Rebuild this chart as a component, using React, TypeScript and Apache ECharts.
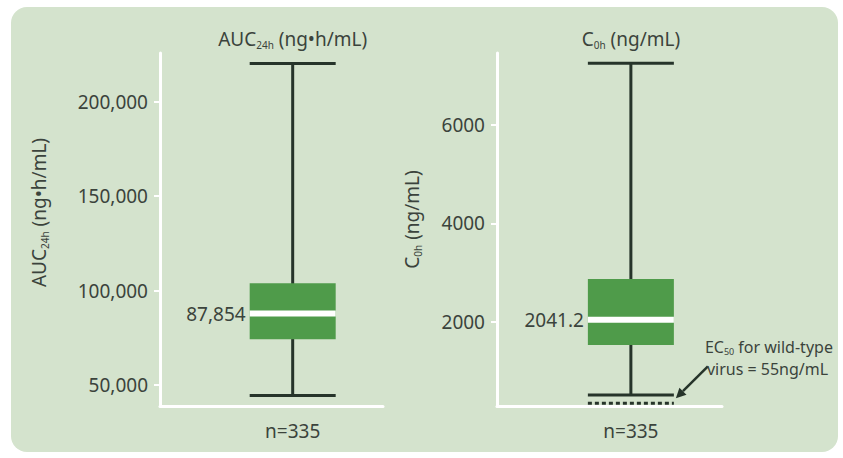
import React, { useEffect, useRef } from "react";
import * as echarts from "echarts";

// ---- data ----
const titleMain = ["AUC", "C"];
const titleSub = ["24h", "0h"];
const titleUnit = ["(ng•h/mL)", "(ng/mL)"];
const sampleSizes = [335, 335];
const whiskerLow = [44500, 508];
const q1 = [74200, 1526];
const medians = [87854, 2041.2];
const q3 = [103900, 2868];
const whiskerHigh = [220300, 7255];
const aucTicks = [50000, 100000, 150000, 200000];
const c0hTicks = [2000, 4000, 6000];
const yMin = [38900, 286];
const yMax = [225800, 7465];
const ec50Value = 55; // ng/mL, as labelled
const ec50DrawnAt = 341; // level at which the figure draws the (schematic) EC50 line

// ---- styling ----
const FONT = "'Noto Sans', 'DejaVu Sans', sans-serif";
const TEXT = "#3b433c";
const GREEN = "#4f9b4a";
const WHISK = "#26342a";
const PANEL = "#d4e3cd";
const BOX_W = 86;
const BOX_X = 0.595;

const richTitle = {
  a: { fontSize: 19, fontFamily: FONT, color: TEXT, lineHeight: 22 },
  s: { fontSize: 10, fontFamily: FONT, color: TEXT, lineHeight: 10, verticalAlign: "bottom" as const },
};

const fmtNum = (i: number, v: number) =>
  i === 0 ? v.toLocaleString("en-US") : String(v);

const makeRender = (idx: number) => (_params: any, api: any) => {
  const x = api.value(0);
  const [cx, yWl] = api.coord([x, api.value(1)]);
  const yQ1 = api.coord([x, api.value(2)])[1];
  const yMed = api.coord([x, api.value(3)])[1];
  const yQ3 = api.coord([x, api.value(4)])[1];
  const yWh = api.coord([x, api.value(5)])[1];
  const half = BOX_W / 2;
  const children: any[] = [
    { type: "line", shape: { x1: cx, y1: yWh, x2: cx, y2: yWl }, style: { stroke: WHISK, lineWidth: 3 } },
    { type: "line", shape: { x1: cx - half, y1: yWh, x2: cx + half, y2: yWh }, style: { stroke: WHISK, lineWidth: 3 } },
    { type: "line", shape: { x1: cx - half, y1: yWl, x2: cx + half, y2: yWl }, style: { stroke: WHISK, lineWidth: 3 } },
    { type: "rect", shape: { x: cx - half, y: yQ3, width: BOX_W, height: yQ1 - yQ3 }, style: { fill: GREEN } },
    { type: "line", shape: { x1: cx - half, y1: yMed, x2: cx + half, y2: yMed }, style: { stroke: "#ffffff", lineWidth: 6 } },
    {
      type: "text",
      x: cx - half - 4,
      y: yMed,
      style: {
        text: fmtNum(idx, medians[idx]),
        align: "right",
        verticalAlign: "middle",
        fontSize: 19,
        fontFamily: FONT,
        fill: TEXT,
      },
    },
  ];
  if (idx === 1) {
    const yEc = api.coord([x, ec50DrawnAt])[1];
    const right = cx + half;
    children.push({
      type: "line",
      shape: { x1: cx - half, y1: yEc, x2: right, y2: yEc },
      style: { stroke: WHISK, lineWidth: 3, lineDash: [4, 3] },
    });
    // arrow
    const tx = right + 2, ty = yEc - 5;
    const sx = right + 34, sy = yEc - 37;
    const ang = Math.atan2(ty - sy, tx - sx);
    const hl = 10, hw = 5;
    const bx = tx - hl * Math.cos(ang), by = ty - hl * Math.sin(ang);
    children.push({
      type: "line",
      shape: { x1: sx, y1: sy, x2: bx, y2: by },
      style: { stroke: WHISK, lineWidth: 2.5 },
    });
    children.push({
      type: "polygon",
      shape: {
        points: [
          [tx, ty],
          [bx + hw * Math.sin(ang), by - hw * Math.cos(ang)],
          [bx - hw * Math.sin(ang), by + hw * Math.cos(ang)],
        ],
      },
      style: { fill: WHISK },
    });
    const rich = {
      a: { fontSize: 16, fontFamily: FONT, fill: TEXT, color: TEXT, lineHeight: 18 },
      s: { fontSize: 9, fontFamily: FONT, fill: TEXT, color: TEXT, lineHeight: 9, verticalAlign: "bottom" },
    };
    children.push({
      type: "text",
      x: right + 31,
      y: yEc - 56,
      style: {
        text: `{a|EC}{s|50}{a| for wild-type}`,
        align: "left",
        verticalAlign: "middle",
        rich,
      },
    });
    children.push({
      type: "text",
      x: right + 33,
      y: yEc - 34,
      style: {
        text: `virus = ${ec50Value}ng/mL`,
        align: "left",
        verticalAlign: "middle",
        fontSize: 16,
        fontFamily: FONT,
        fill: TEXT,
      },
    });
  }
  return { type: "group", children };
};

const grids = [
  { left: 160, top: 53, width: 223, height: 353 },
  { left: 497, top: 53, width: 225, height: 353 },
];

export default function App() {
  const ref = useRef<HTMLDivElement>(null);
  useEffect(() => {
    if (!ref.current) return;
    const chart = echarts.init(ref.current, undefined, { renderer: "svg" });
    const axisLine = { show: true, lineStyle: { color: "#ffffff", width: 3 } };
    const option: any = {
      animation: false,
      backgroundColor: "transparent",
      grid: grids,
      xAxis: [0, 1].map((i) => ({
        type: "value",
        gridIndex: i,
        min: 0,
        max: 1,
        axisLine,
        axisTick: { show: false },
        splitLine: { show: false },
        axisLabel: {
          customValues: [BOX_X],
          formatter: () => `n=${sampleSizes[i]}`,
          fontSize: 19,
          fontFamily: FONT,
          color: TEXT,
          margin: 15,
        },
      })),
      yAxis: [0, 1].map((i) => ({
        type: "value",
        gridIndex: i,
        min: yMin[i],
        max: yMax[i],
        axisLine,
        axisTick: {
          show: true,
          length: 6,
          customValues: i === 0 ? aucTicks : c0hTicks,
          lineStyle: { color: "#ffffff", width: 2 },
        },
        splitLine: { show: false },
        axisLabel: {
          customValues: i === 0 ? aucTicks : c0hTicks,
          formatter: (v: number) => fmtNum(i, v),
          fontSize: 19,
          fontFamily: FONT,
          color: TEXT,
          margin: 12,
        },
        name: `{a|${titleMain[i]}}{s|${titleSub[i]}}{a| ${titleUnit[i]}}`,
        nameLocation: "middle",
        nameRotate: 90,
        nameGap: i === 0 ? 110 : 74,
        nameTextStyle: { rich: richTitle, padding: i === 0 ? [0, 0, 0, 34] : [0, 0, 0, 20] },
      })),
      graphic: [0, 1].map((i) => ({
        type: "text",
        x: grids[i].left + grids[i].width * BOX_X,
        y: 39,
        style: {
          text: `{a|${titleMain[i]}}{s|${titleSub[i]}}{a| ${titleUnit[i]}}`,
          align: "center",
          verticalAlign: "middle",
          rich: {
            a: { fontSize: 19, fontFamily: FONT, fill: TEXT, color: TEXT, lineHeight: 22 },
            s: { fontSize: 10, fontFamily: FONT, fill: TEXT, color: TEXT, lineHeight: 10, verticalAlign: "bottom" },
          },
        },
      })),
      series: [0, 1].map((i) => ({
        type: "custom",
        xAxisIndex: i,
        yAxisIndex: i,
        renderItem: makeRender(i),
        data: [[BOX_X, whiskerLow[i], q1[i], medians[i], q3[i], whiskerHigh[i]]],
        encode: { x: 0, y: [1, 2, 3, 4, 5] },
        z: 5,
      })),
    };
    chart.setOption(option);
    return () => chart.dispose();
  }, []);
  return (
    <div style={{ position: "absolute", left: 0, top: 0, width: 843, height: 458, background: "#ffffff" }}>
      <div
        style={{
          position: "absolute",
          left: 11,
          top: 7,
          width: 827,
          height: 445,
          borderRadius: 16,
          background: PANEL,
        }}
      />
      <div ref={ref} style={{ position: "absolute", left: 0, top: 0, width: 843, height: 458 }} />
    </div>
  );
}
